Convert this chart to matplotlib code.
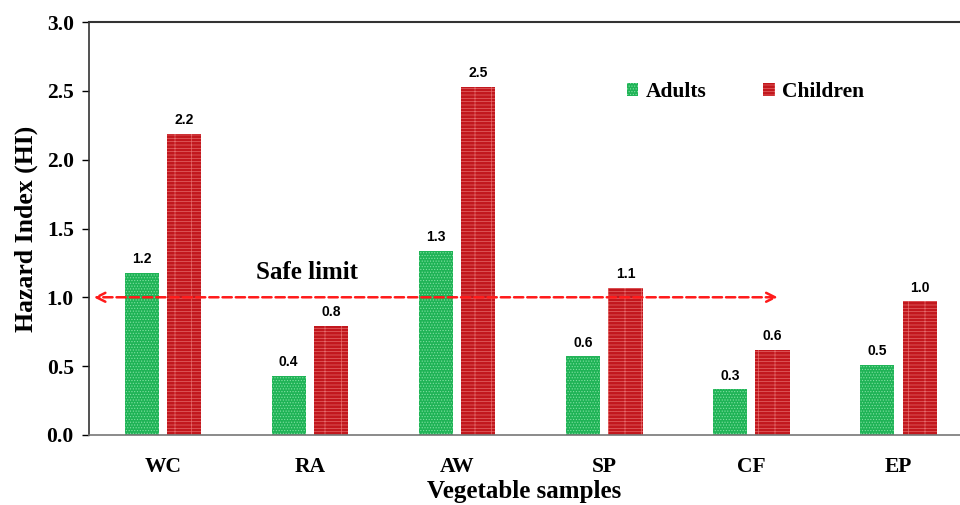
import numpy as np
import matplotlib.pyplot as plt
from matplotlib.patches import Patch

# datos
samples = ['WC', 'RA', 'AW', 'SP', 'CF', 'EP']
adults = [1.18, 0.43, 1.34, 0.57, 0.33, 0.51]
children = [2.19, 0.79, 2.53, 1.07, 0.62, 0.97]
adult_lbl = ['1.2', '0.4', '1.3', '0.6', '0.3', '0.5']
child_lbl = ['2.2', '0.8', '2.5', '1.1', '0.6', '1.0']
safe_limit = 1.0

plt.rcParams['hatch.linewidth'] = 0.5
serif = 'Liberation Serif'

fig = plt.figure(figsize=(9.6, 5.05), dpi=100)
ax = fig.add_axes([0.0927, 0.139, 0.9073, 0.817])

x = np.arange(len(samples))
w = 0.232
off = 0.145
green, green_h = '#1fb356', '#80e0a2'
red, red_h = '#c2171d', '#e46a6a'
b1 = ax.bar(x - off, adults, w, color=green, edgecolor=green_h, hatch='......', linewidth=0)
b2 = ax.bar(x + off, children, w, color=red, edgecolor=red_h, hatch='-----|', linewidth=0)

for rect, t in zip(b1, adult_lbl):
    ax.text(rect.get_x() + rect.get_width() / 2, rect.get_height() + 0.05, t,
            ha='center', va='bottom', fontsize=10, fontweight='bold', family='Liberation Sans')
for rect, t in zip(b2, child_lbl):
    ax.text(rect.get_x() + rect.get_width() / 2, rect.get_height() + 0.05, t,
            ha='center', va='bottom', fontsize=10, fontweight='bold', family='Liberation Sans')

# flecha del limite seguro
ax.annotate('', xy=(-0.49, safe_limit), xytext=(4.2, safe_limit),
            arrowprops=dict(arrowstyle='<->', color='#ff1a1a', lw=1.8, ls='--',
                            mutation_scale=16))
ax.text(0.98, 1.18, 'Safe limit', ha='center', va='center', fontsize=18,
        fontweight='bold', family=serif)

ax.set_xlim(-0.503, 5.42)
ax.set_ylim(0, 3.0)
ax.set_yticks(np.arange(0, 3.01, 0.5))
ax.set_yticklabels(['%.1f' % v for v in np.arange(0, 3.01, 0.5)],
                   fontsize=15.5, fontweight='bold', family=serif)
ax.set_xticks(x)
ax.set_xticklabels(samples, fontsize=15.5, fontweight='bold', family=serif)
ax.tick_params(axis='x', length=0, pad=16)
ax.tick_params(axis='y', length=5, width=1, pad=6)

ax.spines['right'].set_visible(False)
ax.spines['top'].set_color('#333333')
ax.spines['top'].set_linewidth(1.5)
ax.spines['left'].set_color('#333333')
ax.spines['left'].set_linewidth(1.2)
ax.spines['bottom'].set_color('#777777')
ax.spines['bottom'].set_linewidth(1.2)

ax.set_ylabel('Hazard Index (HI)', fontsize=18.5, fontweight='bold', family=serif, labelpad=6)
ax.set_xlabel('Vegetable samples', fontsize=18, fontweight='bold', family=serif, labelpad=2)

handles = [Patch(facecolor=green, edgecolor=green_h, hatch='......', linewidth=0),
           Patch(facecolor=red, edgecolor=red_h, hatch='-----|', linewidth=0)]
ax.legend(handles, ['Adults', 'Children'], ncol=2, frameon=False,
          loc='center left', bbox_to_anchor=(0.595, 0.83),
          prop={'family': serif, 'weight': 'bold', 'size': 15.5},
          handlelength=0.55, handleheight=0.55, handletextpad=0.35, columnspacing=2.6)

plt.savefig('out.png', dpi=100)
